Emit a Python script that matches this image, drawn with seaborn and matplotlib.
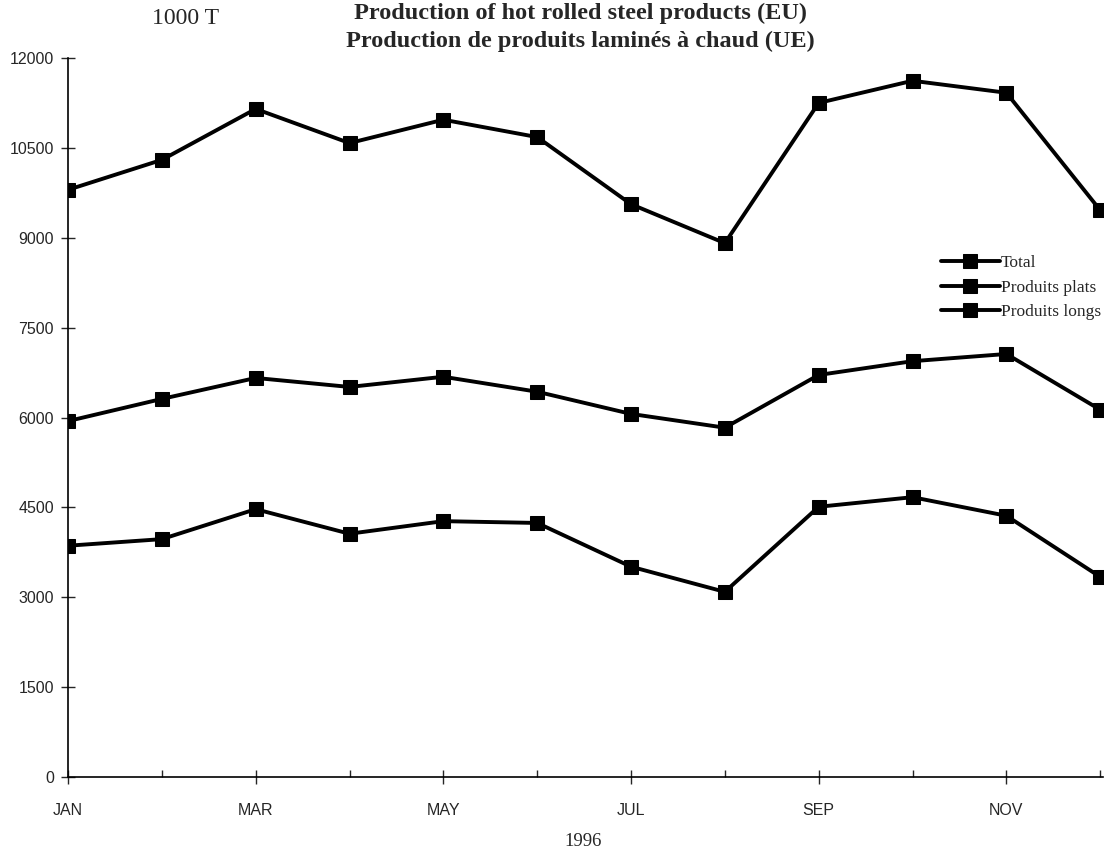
import matplotlib
matplotlib.use("Agg")
import matplotlib.pyplot as plt
import seaborn as sns
import pandas as pd

months = ["JAN", "FEB", "MAR", "APR", "MAY", "JUN", "JUL", "AUG", "SEP", "OCT", "NOV", "DEC"]
total = [9800, 10300, 11150, 10580, 10970, 10680, 9560, 8910, 11250, 11620, 11420, 9460]
plats = [5940, 6310, 6660, 6510, 6680, 6430, 6060, 5830, 6710, 6940, 7060, 6130]
longs = [3860, 3970, 4470, 4060, 4270, 4240, 3510, 3090, 4510, 4670, 4360, 3340]
series_names = ["Total", "Produits plats", "Produits longs"]
yticks = [0, 1500, 3000, 4500, 6000, 7500, 9000, 10500, 12000]

rows = []
for name, vals in zip(series_names, [total, plats, longs]):
    for i, v in enumerate(vals):
        rows.append({"month": i, "value": v, "series": name})
df = pd.DataFrame(rows)

sns.set_style("ticks")
plt.rcParams["font.family"] = ["Liberation Sans", "DejaVu Sans"]

fig = plt.figure(figsize=(11.05, 8.61), dpi=100)
ax = fig.add_axes([68 / 1105, 1 - 777 / 861, (1103 - 68) / 1105, (777 - 58) / 861])

sns.lineplot(data=df, x="month", y="value", hue="series", style="series",
             palette=["black"] * 3, markers=["s", "s", "s"], dashes=False,
             linewidth=2.8, markersize=10, markeredgecolor="black",
             ax=ax, legend=True)

ax.set_xlim(0, 11.03)
ax.set_ylim(0, 12000)
ax.set_yticks(yticks)
ax.set_yticklabels([str(t) for t in yticks], fontsize=11.5)
ax.set_xticks(range(0, 12, 2))
ax.set_xticklabels(months[0::2], fontsize=11.5)
ax.set_xticks(range(1, 12, 2), minor=True)
ax.tick_params(axis="y", direction="inout", length=10, width=1, pad=5)
ax.tick_params(axis="x", which="major", direction="inout", length=10, width=1, pad=14)
ax.tick_params(axis="x", which="minor", direction="in", length=5, width=1)
ax.set_xlabel("")
ax.set_ylabel("")
for s in ["top", "right"]:
    ax.spines[s].set_visible(False)
for s in ["left", "bottom"]:
    ax.spines[s].set_linewidth(1.2)
    ax.spines[s].set_color("black")

leg = ax.legend(loc="upper left", bbox_to_anchor=(925 / 1105, 1 - 239 / 861),
                bbox_transform=fig.transFigure, frameon=False,
                handlelength=3.4, handletextpad=0.05, labelspacing=0.5,
                prop={"family": "Liberation Serif", "size": 12.5})

serif = "Liberation Serif"
fig.text(580 / 1105, 1 - 13 / 861, "Production of hot rolled steel products (EU)",
         ha="center", va="center", fontsize=17.5, fontweight="bold", family=serif)
fig.text(580 / 1105, 1 - 41 / 861, "Production de produits laminés à chaud (UE)",
         ha="center", va="center", fontsize=17.5, fontweight="bold", family=serif)
fig.text(186 / 1105, 1 - 19 / 861, "1000 T", ha="center", va="center",
         fontsize=17, family=serif)
fig.text(583 / 1105, 1 - 841 / 861, "1996", ha="center", va="center",
         fontsize=13.5, family=serif)

fig.savefig("out.png", dpi=100, facecolor="white")
